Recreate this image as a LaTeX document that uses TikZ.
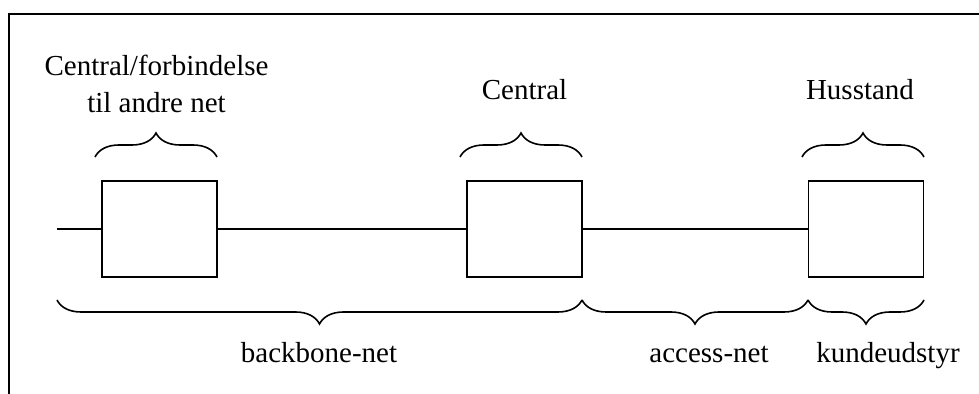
\documentclass[tikz,border=0pt]{standalone}
\usepackage{fontspec}
\setmainfont{Liberation Serif}
\usetikzlibrary{decorations.pathreplacing}

\begin{document}
\begin{tikzpicture}[x=0.5pt,y=-0.5pt,
  box/.style={draw,line width=0.8pt,minimum width=57.5pt,minimum height=48pt,inner sep=0pt},
  brc/.style={decorate,decoration={brace,amplitude=12pt},line width=0.8pt},
  lbl/.style={font=\fontsize{14.5}{18.5}\selectfont,inner sep=0pt,anchor=base,align=center}]
\useasboundingbox (0,0) rectangle (979,394);
\draw [line width=1pt] (9,394) -- (9,14) -- (979,14);
\node [box] (ext) at (159.5,229) {};
\node [box] (central) at (524.5,229) {};
\node [box] (hus) at (866,229) {};
\coordinate (start) at (57,229);
\draw [line width=0.8pt] (start) -- (ext.west);
\draw [line width=0.8pt] (ext.east) -- (central.west);
\draw [line width=0.8pt] (central.east) -- (hus.west);
\draw [brc] (95,157) -- (217,157);
\draw [brc] (460,157) -- (582,157);
\draw [brc] (802,157) -- (924,157);
\draw [brc] (582,300) -- (57,300);
\draw [brc] (808,300) -- (582,300);
\draw [brc] (924,300) -- (808,300);
\node [lbl] (extlbl) at (156.5,113) {Central/forbindelse\\til andre net};
\node [lbl] (centrallbl) at (524.5,100) {Central};
\node [lbl] (huslbl) at (860,100) {Husstand};
\node [lbl] (backbone) at (319,363) {backbone-net};
\node [lbl] (access) at (709,363) {access-net};
\node [lbl] (kunde) at (888,363) {kundeudstyr};
\end{tikzpicture}
\end{document}
